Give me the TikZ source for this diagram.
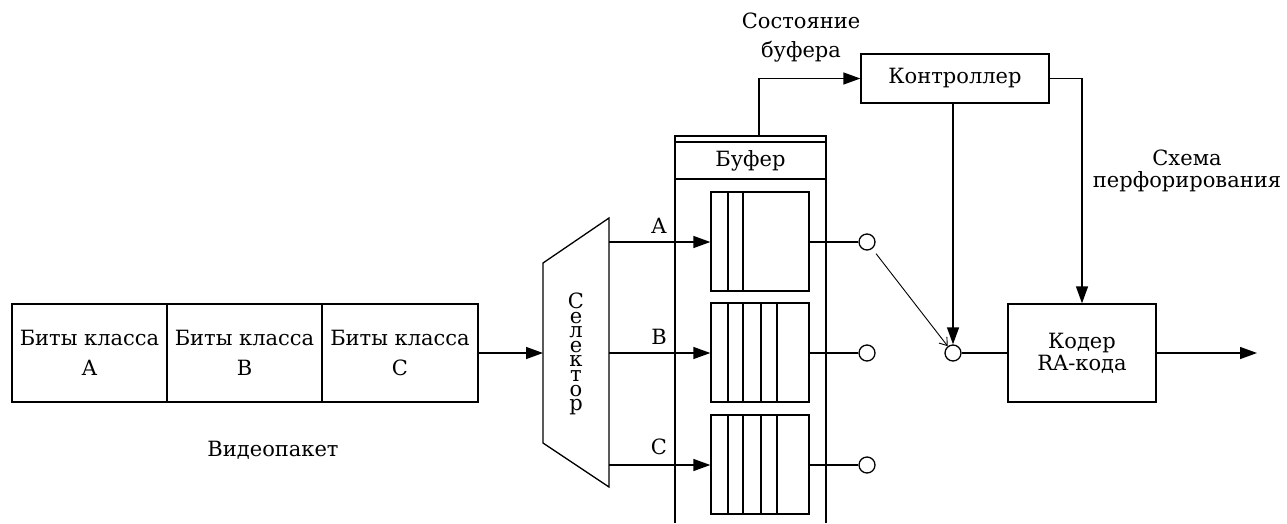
\documentclass[tikz,border=0pt]{standalone}
\usepackage{fontspec}
\setmainfont{DejaVu Serif}
\usetikzlibrary{arrows.meta,calc}
\begin{document}
\begin{tikzpicture}[x=1pt,y=-1pt,
  line width=1.3pt,
  every node/.style={font=\fontsize{21}{22}\selectfont},
  box/.style={draw,rectangle,inner sep=0pt,align=center},
  port/.style={draw,circle,inner sep=0pt,minimum size=16pt,fill=white},
  arr/.style={-{Triangle[length=17pt,width=12pt]}},
  thinarr/.style={line width=0.9pt,-{Straight Barb[length=7pt,width=10pt]}},
  lbl/.style={inner sep=0pt,align=center}
]
\useasboundingbox (0,0) rectangle (1287,523);

% video packet
\tikzset{pk/.style={box,minimum height=98pt,font=\fontsize{21}{30}\selectfont}}
\node[pk,minimum width=155pt] (cA) at (89.5,353) {Биты класса\\A};
\node[pk,minimum width=155pt] (cB) at (244.5,353) {Биты класса\\B};
\node[pk,minimum width=156pt] (cC) at (400,353) {Биты класса\\C};
\node[lbl] (vp) at (273,450) {Видеопакет};

% selector
\coordinate (s1) at (543,263);
\coordinate (s2) at (609,218);
\coordinate (s3) at (609,487);
\coordinate (s4) at (543,443);
\draw (s1) -- (s2) -- (s3) -- (s4) -- cycle;
\node[lbl,font=\fontsize{21}{14.6}\selectfont] (sel) at (576,354) {С\\е\\л\\е\\к\\т\\о\\р};
\coordinate (selin) at (543,353);
\draw[arr] (cC.east) -- (selin);

% buffer column
\draw (675,523) -- (675,136) -- (826,136) -- (826,523);
\node[box,minimum width=151pt,minimum height=37pt] (buf) at (750.5,160.5) {Буфер};
\coordinate (buftop) at (759,136);

% queues
\node[box,minimum width=98pt,minimum height=99pt] (qA) at (760,241.5) {};
\node[box,minimum width=98pt,minimum height=99pt] (qB) at (760,352.5) {};
\node[box,minimum width=98pt,minimum height=99pt] (qC) at (760,464.5) {};
\foreach \xx in {728,743} \draw (\xx,192) -- (\xx,291);
\foreach \xx in {728,743,761,777} {
  \draw (\xx,303) -- (\xx,402);
  \draw (\xx,415) -- (\xx,514);
}

% selector outputs
\coordinate (oa) at (609,242);
\coordinate (ob) at (609,353);
\coordinate (oc) at (609,465);
\draw[arr] (oa) -- (qA.west |- oa);
\draw[arr] (ob) -- (qB.west |- ob);
\draw[arr] (oc) -- (qC.west |- oc);
\node[lbl] (la) at (659,226) {A};
\node[lbl] (lb) at (659,337) {B};
\node[lbl] (lc) at (659,447) {C};

% output ports
\node[port] (pA) at (867,242) {};
\node[port] (pB) at (867,353) {};
\node[port] (pC) at (867,465) {};
\draw (qA.east |- pA) -- (pA.west);
\draw (qB.east |- pB) -- (pB.west);
\draw (qC.east |- pC) -- (pC.west);

% controller
\node[box,minimum width=188pt,minimum height=49pt] (ctrl) at (955,78.5) {Контроллер};
\draw[arr] (buftop) |- (ctrl.west);
\node[lbl,font=\fontsize{21}{29}\selectfont] (st) at (801,38) {Состояние\\буфера};

% junction
\node[port] (J) at (953,353) {};
\draw[arr] (J |- ctrl.south) -- (J.north);
\draw[thinarr,shorten <=6pt] (pA) -- (J);

% coder
\node[box,minimum width=148pt,minimum height=98pt] (coder) at (1082,353) {Кодер\\RA-кода};
\draw (J.east) -- (coder.west);
\coordinate (out) at (1257,353);
\draw[arr] (coder.east) -- (out);
\draw[arr] (ctrl.east) -| (coder.north);
\node[lbl] (sch) at (1187,171) {Схема\\перфорирования};
\end{tikzpicture}
\end{document}
